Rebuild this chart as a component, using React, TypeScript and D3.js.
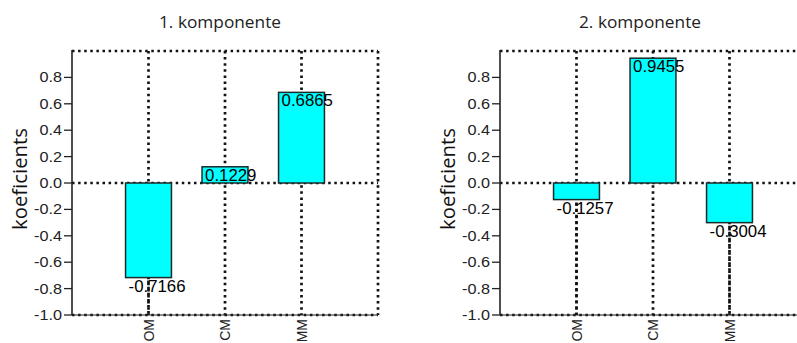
import React from "react";
import * as d3 from "d3";

// Loadings of each variable on the first two components
const categories = ["OM", "CM", "MM"];
const component1 = [-0.7166, 0.1229, 0.6865];
const component2 = [-0.1257, 0.9455, -0.3004];
const titles = ["1. komponente", "2. komponente"];
const yTicks = [-1.0, -0.8, -0.6, -0.4, -0.2, 0.0, 0.2, 0.4, 0.6, 0.8];
const yLabel = "koeficients";

const W = 797;
const H = 343;
const TOP = 51;
const BOTTOM = 315;
const STEP = 76.5;
const SANS = "'Liberation Sans', Arial, sans-serif";
const TITLE_FONT = "'Open Sans', sans-serif";
const DOT = { stroke: "#111", strokeWidth: 2.7, strokeDasharray: "2.5 3.6" };
const SX = 1.12; // horizontal stretch of the printed labels

type PanelProps = { axisX: number; titleX: number; title: string; values: number[] };

function Panel({ axisX, titleX, title, values }: PanelProps) {
  const x = d3.scaleLinear().domain([0, categories.length + 1]).range([axisX, axisX + STEP * (categories.length + 1)]);
  const y = d3.scaleLinear().domain([-1, 1]).range([BOTTOM, TOP]);
  const barW = STEP * 0.6;
  const right = x(categories.length + 1);

  return (
    <g>
      <text
        transform={`translate(${titleX},28) scale(1.08,1)`}
        textAnchor="middle"
        fontFamily={TITLE_FONT}
        fontSize={16}
        fill="#222"
      >
        {title}
      </text>

      {/* dotted frame and grid */}
      {[1, 0, -1].map((v) => (
        <line key={"h" + v} x1={axisX} x2={right} y1={y(v)} y2={y(v)} {...DOT} />
      ))}
      {categories.map((c, i) => (
        <line key={"v" + c} x1={x(i + 1)} x2={x(i + 1)} y1={y(1)} y2={y(-1)} {...DOT} />
      ))}
      <line x1={right} x2={right} y1={y(1)} y2={y(-1)} {...DOT} />

      {/* bars */}
      {values.map((v, i) => (
        <rect
          key={"b" + i}
          x={x(i + 1) - barW / 2}
          y={Math.min(y(v), y(0))}
          width={barW}
          height={Math.abs(y(v) - y(0))}
          fill="#00ffff"
          stroke="#1c2a2a"
          strokeWidth={1.5}
        />
      ))}

      {/* value labels */}
      {values.map((v, i) => (
        <text
          key={"l" + i}
          transform={`translate(${x(i + 1) - barW / 2 + 3},${y(v) + 14}) scale(1.05,1)`}
          fontFamily={SANS}
          fontSize={16}
          fill="#000"
        >
          {v.toFixed(4)}
        </text>
      ))}

      {/* grid dots that lie over the labels below the negative bars */}
      {values.map((v, i) =>
        v < 0 ? (
          <line key={"o" + i} x1={x(i + 1)} x2={x(i + 1)} y1={y(v) + 3} y2={y(-1)} {...DOT} />
        ) : null
      )}

      {/* y axis */}
      <line x1={axisX} x2={axisX} y1={y(1) - 1} y2={y(-1)} stroke="#222" strokeWidth={1.6} />
      <line x1={axisX} x2={right} y1={y(-1)} y2={y(-1)} stroke="#222" strokeWidth={1} />
      {yTicks.map((t) => (
        <g key={"t" + t}>
          <line x1={axisX - 8} x2={axisX} y1={y(t)} y2={y(t)} stroke="#222" strokeWidth={1.3} />
          <text
            transform={`translate(${axisX - 10},${y(t) + 5}) scale(${SX},1)`}
            textAnchor="end"
            fontFamily={SANS}
            fontSize={14.5}
            fill="#222"
          >
            {t.toFixed(1)}
          </text>
        </g>
      ))}
      <text
        transform={`translate(${axisX - 45},${y(0) - 4}) rotate(-90)`}
        textAnchor="middle"
        fontFamily={TITLE_FONT}
        fontSize={20}
        textLength={102}
        lengthAdjust="spacingAndGlyphs"
        fill="#111"
      >
        {yLabel}
      </text>

      {/* category labels */}
      {categories.map((c, i) => (
        <text
          key={"c" + c}
          transform={`translate(${x(i + 1) + 5},${y(-1) + 4}) rotate(-90)`}
          textAnchor="end"
          fontFamily={SANS}
          fontSize={14}
          fill="#222"
        >
          {c}
        </text>
      ))}
    </g>
  );
}

export default function App() {
  return (
    <svg
      width={W}
      height={H}
      style={{ position: "absolute", left: 0, top: 0, background: "#fff" }}
    >
      <rect width={W} height={H} fill="#fff" />
      <Panel axisX={72} titleX={220} title={titles[0]} values={component1} />
      <Panel axisX={500} titleX={640} title={titles[1]} values={component2} />
    </svg>
  );
}
